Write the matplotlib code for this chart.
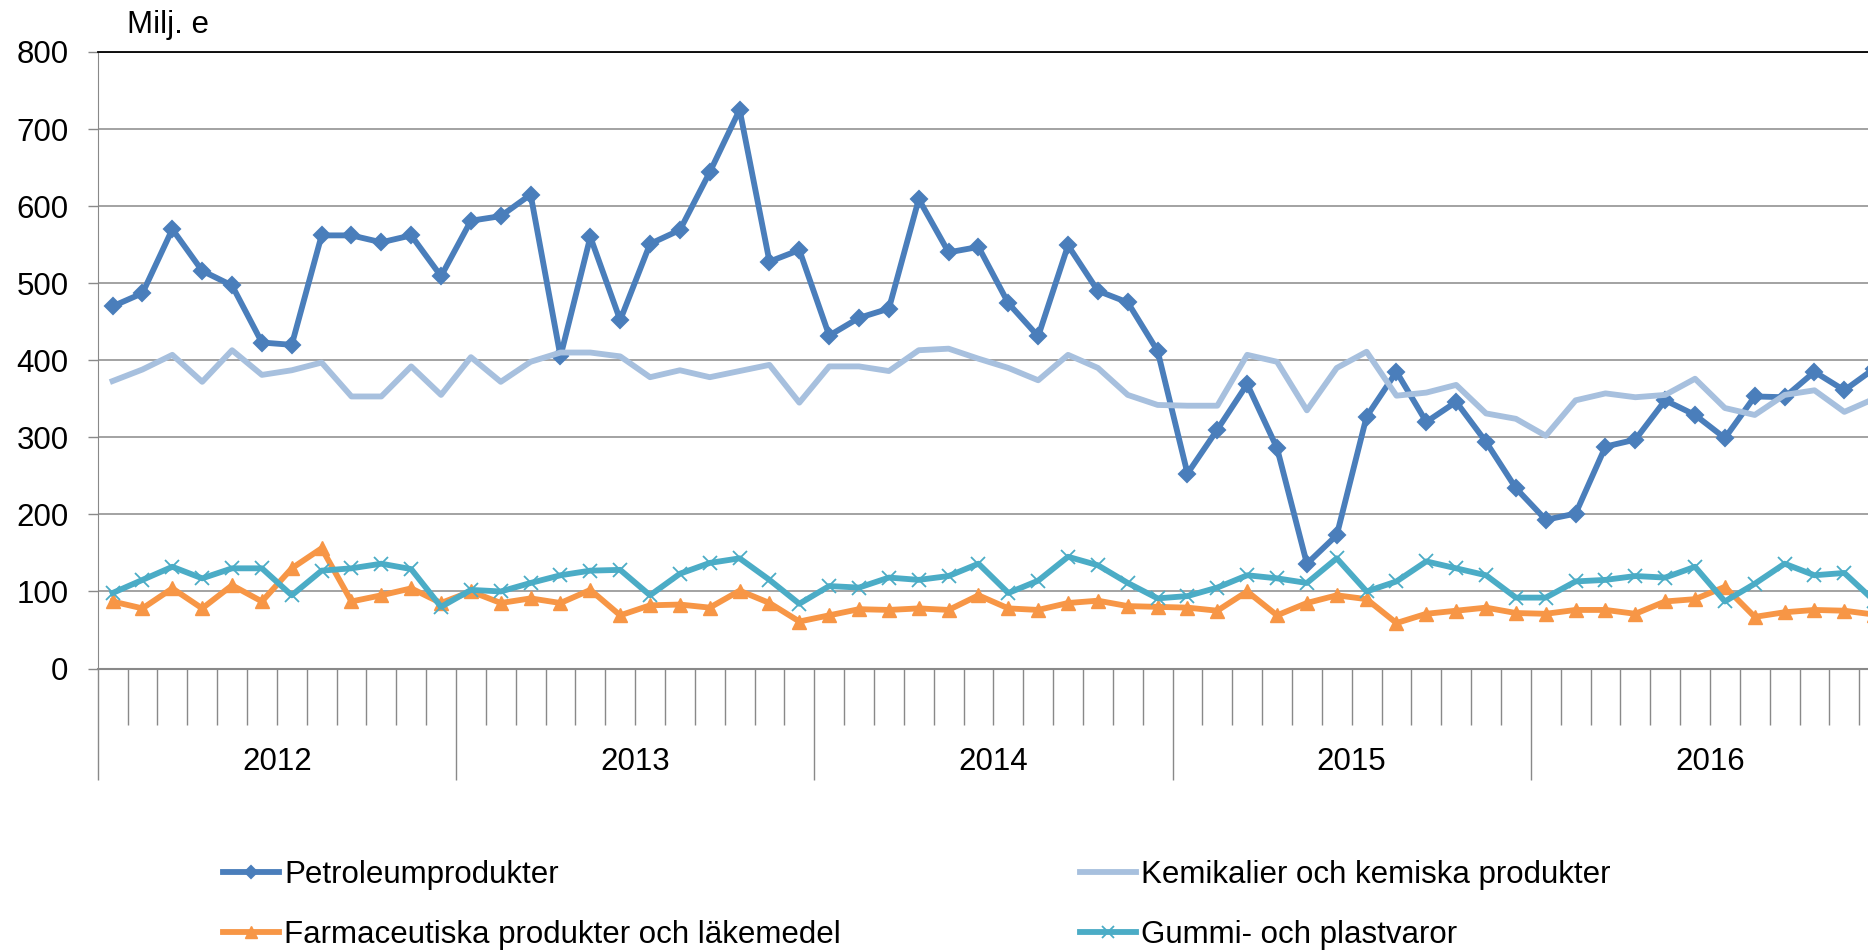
import numpy as np
import matplotlib
matplotlib.use("Agg")
import matplotlib.pyplot as plt

plt.rcParams['font.family'] = ['Liberation Sans', 'DejaVu Sans']

years = ["2012", "2013", "2014", "2015", "2016"]
months = np.arange(60)

petroleum = [470, 487, 570, 516, 497, 423, 420, 562, 562, 553, 562, 509,
             581, 587, 615, 405, 560, 452, 551, 569, 644, 725, 528, 543,
             432, 455, 467, 609, 540, 547, 474, 431, 549, 490, 475, 412,
             253, 310, 369, 286, 136, 173, 327, 385, 320, 346, 294, 234,
             193, 201, 288, 297, 348, 329, 299, 353, 352, 385, 361, 389]
kemikalier = [373, 388, 407, 372, 413, 381, 387, 397, 353, 353, 392, 355,
              404, 372, 398, 410, 410, 405, 378, 387, 378, 386, 394, 345,
              392, 392, 386, 413, 415, 402, 390, 374, 407, 390, 355, 342,
              341, 341, 407, 398, 335, 390, 411, 354, 358, 368, 331, 324,
              302, 348, 357, 352, 355, 376, 338, 329, 355, 361, 333, 350]
farmaceutiska = [87, 78, 104, 78, 108, 87, 130, 156, 87, 95, 104, 85,
                 100, 85, 91, 85, 102, 69, 82, 83, 79, 101, 85, 61,
                 69, 77, 76, 78, 76, 95, 78, 76, 85, 88, 81, 80,
                 79, 75, 100, 69, 85, 95, 90, 59, 71, 75, 79, 72,
                 71, 76, 76, 71, 87, 90, 106, 67, 73, 76, 75, 70]
gummi = [98, 115, 132, 117, 130, 130, 95, 127, 130, 136, 129, 80,
         102, 100, 111, 121, 127, 128, 95, 123, 137, 143, 115, 84,
         107, 105, 118, 115, 120, 136, 98, 114, 145, 134, 111, 91,
         94, 105, 121, 117, 111, 143, 100, 113, 139, 130, 121, 92,
         92, 113, 115, 120, 118, 132, 87, 110, 136, 121, 124, 88]

fs = 22.5
grey = '#898989'

fig = plt.figure(figsize=(18.68, 9.5), dpi=100)
# plot area runs past the right edge, like the cropped original
ax = fig.add_axes([0.0523, 0.2963, 0.959, 0.649])

l1, = ax.plot(months, petroleum, color='#4A7EBB', lw=4.2, marker='D', ms=8,
              mew=1.5, label="Petroleumprodukter", zorder=3)
l2, = ax.plot(months, kemikalier, color='#A7C0DE', lw=4.2,
              label="Kemikalier och kemiska produkter", zorder=4)
l3, = ax.plot(months, farmaceutiska, color='#F79646', lw=4.2, marker='^', ms=10.5,
              label="Farmaceutiska produkter och läkemedel", zorder=5)
l4, = ax.plot(months, gummi, color='#4BACC6', lw=4.2, marker='x', ms=10.5, mew=1.3,
              label="Gummi- och plastvaror", zorder=6)

ax.set_xlim(-0.5, 59.5)
ax.set_ylim(0, 800)
ax.set_yticks(np.arange(0, 801, 100))
ax.yaxis.grid(True, color=grey, lw=1.1)
ax.set_axisbelow(True)
ax.tick_params(axis='y', labelsize=fs, length=7, width=1, color=grey, pad=14)

ax.set_xticks(np.arange(-0.5, 60, 12))
ax.set_xticks(np.arange(-0.5, 60, 1), minor=True)
ax.set_xticklabels([])
ax.tick_params(axis='x', which='major', length=80, width=1, color=grey)
ax.tick_params(axis='x', which='minor', length=40, width=1, color=grey)

for i, y in enumerate(years):
    ax.text(i * 12 + 5.5, -0.152, y, transform=ax.get_xaxis_transform(),
            ha='center', va='center', fontsize=fs)

ax.spines['left'].set_color(grey)
ax.spines['bottom'].set_color(grey)
ax.spines['bottom'].set_linewidth(1.5)
ax.spines['right'].set_visible(False)
ax.spines['top'].set_color('black')
ax.spines['top'].set_linewidth(1.3)

fig.text(127 / 1868, 1 - 25 / 950, "Milj. e", fontsize=fs, ha='left', va='center')

fig.legend(handles=[l1, l3, l2, l4], loc='upper left', ncol=2,
           bbox_to_anchor=(223 / 1868, 0.0952), frameon=False, fontsize=fs,
           borderpad=0, handlelength=1.8, handletextpad=0.15,
           columnspacing=7.66, labelspacing=0.98, borderaxespad=0,
           markerscale=0.8)

fig.savefig("out.png", dpi=100)
